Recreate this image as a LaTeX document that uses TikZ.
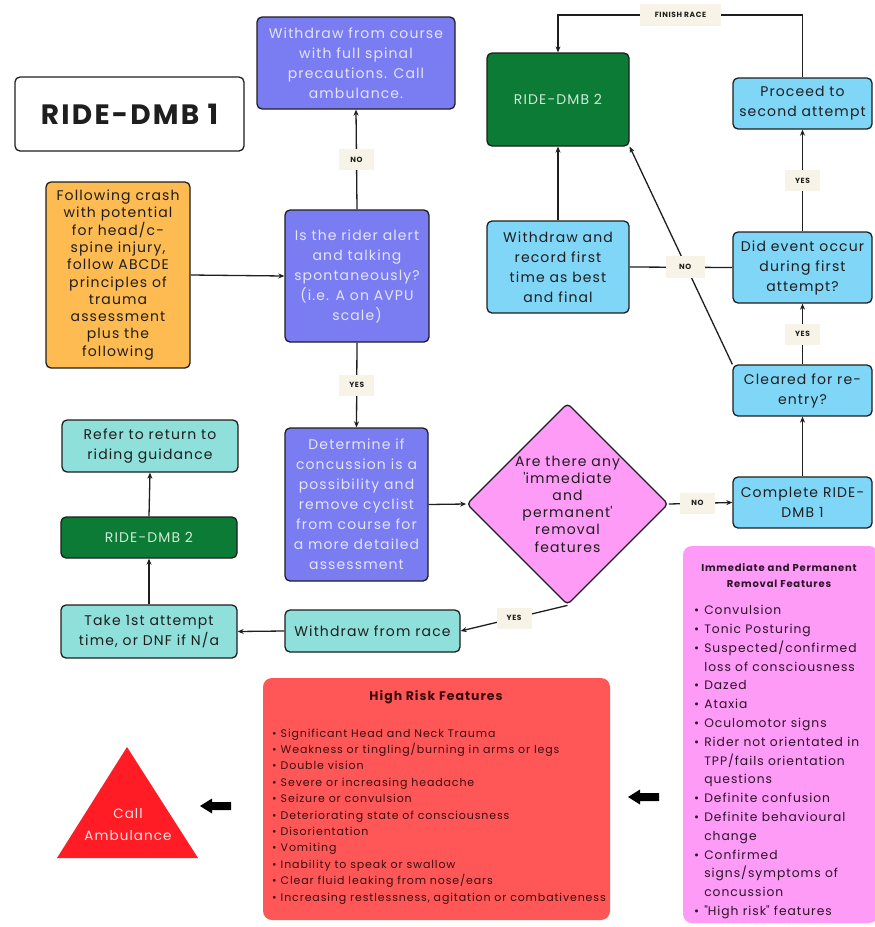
\documentclass[tikz,border=0pt]{standalone}
\usepackage{fontspec}
\setmainfont{Poppins}[LetterSpace=8]
\usetikzlibrary{shapes.geometric,arrows.meta}
\definecolor{purp}{HTML}{7A7CF2}
\definecolor{lav}{HTML}{E4E4FB}
\definecolor{orng}{HTML}{FDBB52}
\definecolor{grn}{HTML}{0B7B35}
\definecolor{grntext}{HTML}{CFEBD7}
\definecolor{lblue}{HTML}{7FD6F7}
\definecolor{teal}{HTML}{8FE0DB}
\definecolor{pnk}{HTML}{FD9BF6}
\definecolor{redbox}{HTML}{FF5757}
\definecolor{trired}{HTML}{FF1C24}
\definecolor{tritext}{HTML}{FCE3E3}
\definecolor{cream}{HTML}{F7F3E6}
\definecolor{ink}{HTML}{1E1E1E}
\definecolor{redink}{HTML}{3A0E0E}
\definecolor{pinkink}{HTML}{2C1429}
\tikzset{
  box/.style={draw=ink, line width=1.3pt, rounded corners=5pt, align=center, inner sep=0pt,
    text=ink, font=\fontsize{14}{20}\selectfont},
  purpbox/.style={box, fill=purp, text=lav},
  bluebox/.style={box, fill=lblue},
  tealbox/.style={box, fill=teal},
  grnbox/.style={box, fill=grn, text=grntext},
  conn/.style={line width=1.3pt, draw=ink},
  arr/.style={conn, -{Stealth[length=6pt,width=5pt]}},
  lab/.style={fill=cream, font=\bfseries\fontsize{7.5}{9}\selectfont, minimum width=35pt,
    minimum height=21pt, inner sep=0pt, text=ink},
}
\begin{document}
\begin{tikzpicture}[x=1pt,y=-1pt]
\useasboundingbox (0,0) rectangle (875,927);
% boxes
\node[box, fill=white, minimum width=229pt, minimum height=74pt,
  font=\bfseries\fontsize{28}{30}\selectfont] (title) at (129.5,114) {RIDE-DMB 1};
\node[purpbox, minimum width=198pt, minimum height=92pt] (wcourse) at (356,63)
  {Withdraw from course\\with full spinal\\precautions. Call\\ambulance.};
\node[box, fill=orng, minimum width=144pt, minimum height=186pt,
  font=\fontsize{14}{17.3}\selectfont] (crash) at (118,275)
  {Following crash\\with potential\\for head/c-\\spine injury,\\follow ABCDE\\principles of\\trauma\\assessment\\plus the\\following};
\node[purpbox, minimum width=144pt, minimum height=132pt] (alert) at (357,276)
  {Is the rider alert\\and talking\\spontaneously?\\(i.e. A on AVPU\\scale)};
\node[purpbox, minimum width=143pt, minimum height=153pt] (determine) at (356.5,504.5)
  {Determine if\\concussion is a\\possibility and\\remove cyclist\\from course for\\a more detailed\\assessment};
\node[draw=ink, line width=1.3pt, fill=pnk, diamond, rounded corners=4pt,
  minimum width=201pt, minimum height=197pt, inner sep=0pt, align=center, text=ink,
  font=\fontsize{14}{17.2}\selectfont] (removal) at (567.5,504)
  {Are there any\\\textquotesingle immediate\\and\\permanent\textquotesingle\\removal\\features};
\node[bluebox, minimum width=139pt, minimum height=51pt] (complete) at (802.5,502.5)
  {Complete RIDE-\\DMB 1};
\node[bluebox, minimum width=139pt, minimum height=51pt] (cleared) at (802.5,390.5)
  {Cleared for re-\\entry?};
\node[bluebox, minimum width=139pt, minimum height=71pt] (event) at (802.5,267.5)
  {Did event occur\\during first\\attempt?};
\node[bluebox, minimum width=139pt, minimum height=51pt] (proceed) at (802.5,103.5)
  {Proceed to\\second attempt};
\node[grnbox, minimum width=142pt, minimum height=93pt] (dmbtop) at (558,99.5)
  {RIDE-DMB 2};
\node[bluebox, minimum width=142pt, minimum height=92pt] (record) at (558,267)
  {Withdraw and\\record first\\time as best\\and final};
\node[tealbox, minimum width=176pt, minimum height=52pt] (refer) at (150,446)
  {Refer to return to\\riding guidance};
\node[grnbox, minimum width=176pt, minimum height=41pt] (dmbsmall) at (149,537.5)
  {RIDE-DMB 2};
\node[tealbox, minimum width=176pt, minimum height=53pt] (take) at (149,631.5)
  {Take 1st attempt\\time, or DNF if N/a};
\node[tealbox, minimum width=175pt, minimum height=42pt] (wrace) at (372.5,631)
  {Withdraw from race};
% connectors
\draw[arr] (crash.east) -- (alert.west);
\draw[arr] (alert.north) -- node[lab] (lno1) {NO} (wcourse.south);
\draw[arr] (alert.south) -- node[lab] (lyes1) {YES} (determine.north);
\draw[arr] (determine.east) -- (removal.west);
\draw[arr] (removal.east) -- node[lab, pos=0.45] (lno2) {NO} (complete.west);
\draw[arr] (complete.north) -- (cleared.south);
\draw[arr] (cleared.north) -- node[lab] (lyes2) {YES} (event.south);
\draw[arr] (event.north) -- node[lab] (lyes3) {YES} (proceed.south);
\coordinate (frc) at (680.5,15);
\draw[arr] (proceed.north) |- (frc) -| (dmbtop.north);
\node[lab, minimum width=81pt, minimum height=22pt] (lfinish) at (frc) {FINISH RACE};
\draw[arr] (record.north) -- (dmbtop.south);
\draw[arr] (cleared.north west) -- (dmbtop.south east);
\draw[conn] (event.west) -- node[lab, minimum width=39pt, minimum height=22pt, pos=0.46] (lno3) {NO} (record.east);
\draw[arr] (removal.south) -- node[lab] (lyes4) {YES} (wrace.east);
\draw[arr] (wrace.west) -- (take.east);
\draw[arr] (take.north) -- (dmbsmall.south);
\draw[arr] (dmbsmall.north) -- (refer.south);
% pink panel
\fill[pnk, rounded corners=9pt] (683,546) rectangle (878,923);
\node[align=center, text=pinkink, font=\bfseries\fontsize{10}{16}\selectfont] (pinktitle) at (779,576)
  {Immediate and Permanent\\Removal Features};
\node[anchor=north west, inner sep=0pt, text=pinkink, font=\fontsize{12.3}{18.8}\selectfont] (pinklist) at (694,601.3)
  {\begin{tabular}{@{}l@{\hspace{5pt}}l@{}}
  \textbullet & Convulsion\\
  \textbullet & Tonic Posturing\\
  \textbullet & Suspected/confirmed\\
  & loss of consciousness\\
  \textbullet & Dazed\\
  \textbullet & Ataxia\\
  \textbullet & Oculomotor signs\\
  \textbullet & Rider not orientated in\\
  & TPP/fails orientation\\
  & questions\\
  \textbullet & Definite confusion\\
  \textbullet & Definite behavioural\\
  & change\\
  \textbullet & Confirmed\\
  & signs/symptoms of\\
  & concussion\\
  \textbullet & \textquotedbl High risk\textquotedbl{} features
  \end{tabular}};
% red panel
\fill[redbox, rounded corners=9pt] (263,678) rectangle (610,920);
\node[text=redink, font=\bfseries\fontsize{12.5}{15}\selectfont] (redtitle) at (436,697) {High Risk Features};
\node[anchor=north west, inner sep=0pt, text=redink, font=\fontsize{11}{16.4}\selectfont] (redlist) at (272,725.5)
  {\begin{tabular}{@{}l@{\hspace{4pt}}l@{}}
  \textbullet & Significant Head and Neck Trauma\\
  \textbullet & Weakness or tingling/burning in arms or legs\\
  \textbullet & Double vision\\
  \textbullet & Severe or increasing headache\\
  \textbullet & Seizure or convulsion\\
  \textbullet & Deteriorating state of consciousness\\
  \textbullet & Disorientation\\
  \textbullet & Vomiting\\
  \textbullet & Inability to speak or swallow\\
  \textbullet & Clear fluid leaking from nose/ears\\
  \textbullet & Increasing restlessness, agitation or combativeness
  \end{tabular}};
% block arrows
\fill[black] (628,797) -- (640,789.5) -- (640,793) -- (659,793) -- (659,801) -- (640,801) -- (640,804.5) -- cycle;
\fill[black] (200,806) -- (212,798.5) -- (212,802) -- (231,802) -- (231,810) -- (212,810) -- (212,813.5) -- cycle;
% triangle
\fill[trired] (127,747) -- (198,858) -- (57,858) -- cycle;
\node[align=center, text=tritext, font=\fontsize{13.5}{22}\selectfont] (ambul) at (128,825) {Call\\Ambulance};
\end{tikzpicture}
\end{document}
